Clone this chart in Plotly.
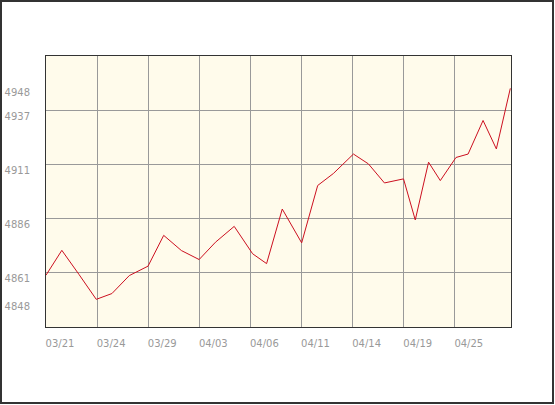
import plotly.graph_objects as go

# ---- data ----
x_pos = [0, 0.93, 1.94, 2.95, 3.87, 4.89, 5.99, 6.91, 7.95, 8.99, 9.95, 11.05,
         12.13, 12.95, 13.87, 15.01, 15.95, 16.87, 18.05, 18.93, 19.87, 20.99,
         21.68, 22.46, 23.15, 24.07, 24.78, 25.66, 26.44, 27.26]
values = [4859.9, 4871.5, 4860.2, 4848.6, 4851.3, 4859.7, 4864.1, 4878.5, 4871.4,
          4867.2, 4875.3, 4882.7, 4869.9, 4865.3, 4890.8, 4875.0, 4901.8, 4907.4,
          4916.5, 4911.9, 4903.0, 4904.9, 4885.7, 4912.7, 4904.1, 4914.9, 4916.5,
          4932.2, 4918.9, 4947.2]
x_tick_pos = [0, 3, 6, 9, 12, 15, 18, 21, 24]
x_tick_labels = ["03/21", "03/24", "03/29", "04/03", "04/06", "04/11", "04/14",
                 "04/19", "04/25"]
y_grid_vals = [4861, 4886.33, 4911.67, 4937]
y_grid_labels = ["4861", "4886", "4911", "4937"]
y_extreme_vals = [4848, 4948]
y_extreme_labels = ["4848", "4948"]
y_range = [4835.67, 4962.33]
x_range = [0, 27.3]

W, H = 555, 405
ML, MR, MT, MB = 46, 44, 56, 78
PW, PH = W - ML - MR, H - MT - MB

fig = go.Figure()
fig.add_trace(go.Scatter(x=x_pos, y=values, mode="lines",
                         line=dict(color="#cc1020", width=1),
                         hoverinfo="skip", showlegend=False))

font = dict(family="DejaVu Sans, Verdana, sans-serif", size=10, color="#999999")

ytv = y_extreme_vals + y_grid_vals
ytt = y_extreme_labels + y_grid_labels

fig.update_layout(
    width=W, height=H,
    margin=dict(l=ML, r=MR, t=MT, b=MB, pad=0, autoexpand=False),
    paper_bgcolor="white",
    plot_bgcolor="#fffbeb",
    font=font,
    xaxis=dict(range=x_range, tickmode="array", tickvals=x_tick_pos,
               ticktext=x_tick_labels, showgrid=True, gridcolor="#999999",
               gridwidth=1, zeroline=False, showline=True, linecolor="#333333",
               linewidth=1, mirror=True, ticks="", ticklabelstandoff=7,
               ticklabelshift=14, tickfont=font, fixedrange=True,
               automargin=False),
    yaxis=dict(range=y_range, tickmode="array", tickvals=ytv, ticktext=ytt,
               showgrid=False, zeroline=False, showline=True,
               linecolor="#333333", linewidth=1, mirror=True, ticks="",
               ticklabelstandoff=13, ticklabelshift=6, tickfont=font,
               minor=dict(tickmode="array", tickvals=y_grid_vals, showgrid=True,
                          gridcolor="#999999", gridwidth=1, ticks=""),
               fixedrange=True, automargin=False),
    shapes=[dict(type="rect", xref="paper", yref="paper",
                 x0=(1 - ML) / PW, x1=(W - 2 - ML) / PW,
                 y0=(PH + MT - (H - 2)) / PH, y1=(PH + MT - 1) / PH,
                 line=dict(color="#333333", width=2), layer="above")],
)

fig.write_html("out.html", config={"displayModeBar": False},
               post_script="document.body.style.margin='0';"
                           "document.body.style.overflow='hidden';")
